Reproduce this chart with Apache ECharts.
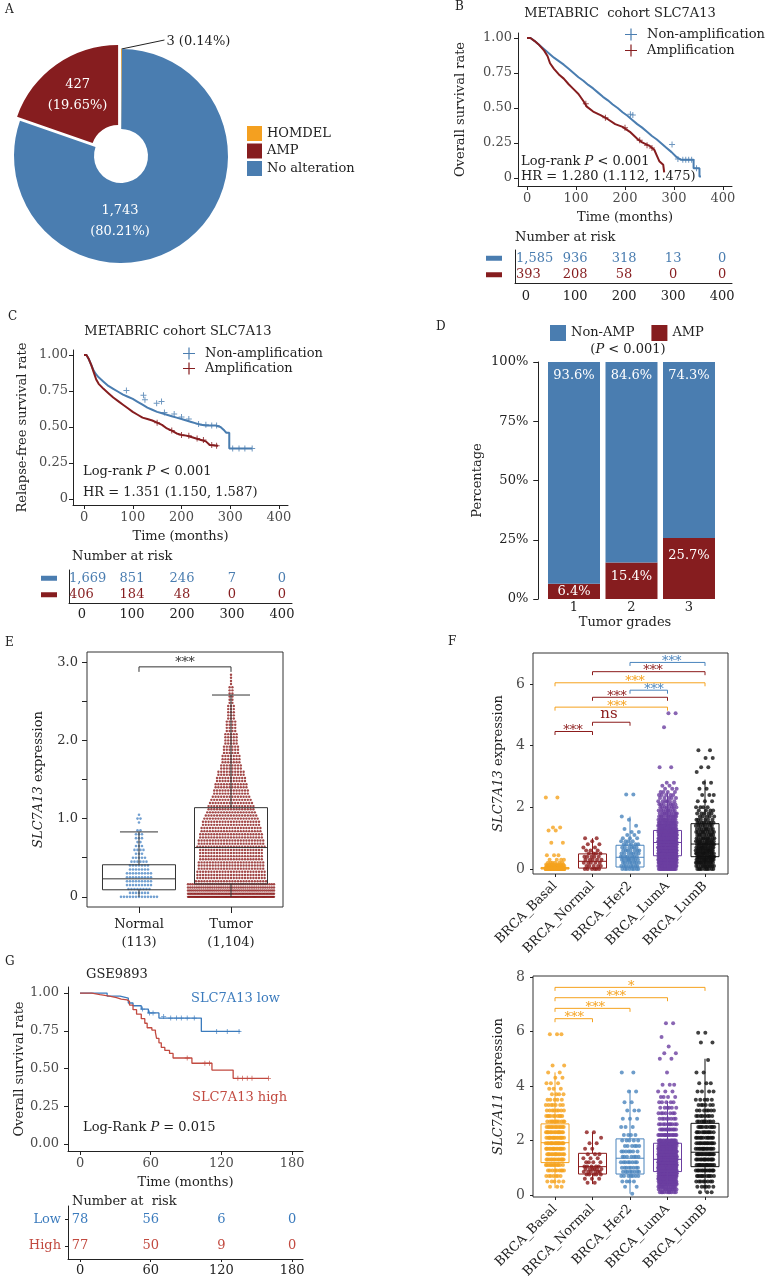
<!DOCTYPE html>
<html>
<head>
<meta charset="utf-8">
<title>SLC7A13 figure</title>
<script src="https://cdn.jsdelivr.net/npm/echarts@6.0.0/dist/echarts.min.js"></script>
<style>
  html, body { margin: 0; padding: 0; background: #ffffff; }
  #fig { width: 771px; height: 1276px; }
</style>
</head>
<body>
<div id="fig"></div>
<script>
// ===== A: SLC7A13 alterations =====
const pieNames = ['HOMDEL', 'No alteration', 'AMP'];
const pieCounts = [3, 1743, 427];
const piePercents = ['0.14%', '80.21%', '19.65%'];
const pieLegendOrder = ['HOMDEL', 'AMP', 'No alteration'];

// ===== B: METABRIC overall survival =====
const kmTimeTicks = [0, 100, 200, 300, 400];
const survTicks = [0, 0.25, 0.5, 0.75, 1];
const bNonAmpCurve = [[0,1],[7,1],[15,0.98],[25,0.95],[35,0.92],[45,0.89],[55,0.86],[65,0.835],[75,0.81],[85,0.78],[95,0.75],[105,0.72],[115,0.695],[125,0.665],[135,0.64],[145,0.61],[155,0.58],[165,0.555],[175,0.525],[185,0.5],[195,0.47],[205,0.445],[215,0.415],[225,0.385],[235,0.36],[245,0.33],[255,0.3],[265,0.275],[275,0.245],[285,0.215],[295,0.185],[305,0.15],[315,0.13],[340,0.13],[340,0.07],[352,0.07],[352,0.01],[355,0.01]];
const bAmpCurve = [[0,1],[7,1],[15,0.98],[25,0.95],[35,0.91],[42,0.87],[47,0.82],[55,0.78],[65,0.74],[75,0.71],[85,0.67],[95,0.635],[105,0.6],[115,0.55],[122,0.51],[135,0.475],[150,0.45],[165,0.42],[180,0.385],[195,0.365],[210,0.33],[225,0.28],[235,0.255],[250,0.23],[260,0.2],[265,0.16],[270,0.12],[278,0.095],[280,0.095],[280,0.04]];
const bNonAmpCensor = [[211,0.455],[216,0.45],[296,0.24],[308,0.135],[318,0.13],[324,0.13],[330,0.13],[336,0.13],[346,0.07]];
const bAmpCensor = [[120,0.53],[160,0.43],[200,0.36],[230,0.27],[245,0.235],[255,0.215]];
const bRiskNonAmp = [1585, 936, 318, 13, 0];
const bRiskAmp = [393, 208, 58, 0, 0];

// ===== C: METABRIC relapse-free survival =====
const cNonAmpCurve = [[0,1],[5,1],[10,0.97],[15,0.93],[20,0.89],[25,0.865],[30,0.845],[40,0.815],[50,0.785],[60,0.765],[70,0.745],[80,0.725],[90,0.71],[100,0.695],[110,0.675],[120,0.655],[130,0.635],[140,0.62],[150,0.605],[160,0.595],[170,0.585],[180,0.575],[190,0.565],[200,0.555],[210,0.545],[220,0.535],[230,0.525],[240,0.515],[250,0.51],[270,0.51],[280,0.5],[288,0.475],[292,0.46],[298,0.46],[298,0.35],[345,0.35]];
const cAmpCurve = [[0,1],[5,1],[10,0.97],[15,0.93],[20,0.88],[25,0.83],[30,0.8],[40,0.765],[50,0.735],[60,0.705],[70,0.68],[80,0.655],[90,0.63],[100,0.605],[110,0.585],[120,0.565],[130,0.555],[140,0.545],[150,0.53],[160,0.515],[170,0.49],[180,0.475],[190,0.455],[200,0.445],[210,0.44],[220,0.43],[230,0.42],[240,0.41],[250,0.4],[258,0.375],[275,0.37]];
const cNonAmpCensor = [[87,0.753],[122,0.72],[125,0.69],[149,0.665],[159,0.677],[165,0.6],[185,0.59],[200,0.57],[215,0.555],[235,0.52],[250,0.515],[262,0.51],[272,0.51],[305,0.35],[318,0.35],[330,0.35],[345,0.35]];
const cAmpCensor = [[150,0.53],[180,0.475],[200,0.445],[215,0.44],[232,0.42],[245,0.41],[262,0.375],[272,0.37]];
const cRiskNonAmp = [1669, 851, 246, 7, 0];
const cRiskAmp = [406, 184, 48, 0, 0];

// ===== D: AMP by tumor grade =====
const dGrades = ['1', '2', '3'];
const dNonAmp = [93.6, 84.6, 74.3];
const dAmp = [6.4, 15.4, 25.7];

// ===== E: normal vs tumor (value, number of dots in that row) =====
const eGroups = ['Normal\n(113)', 'Tumor\n(1,104)'];
const eBoxes = [[0, 0.09, 0.23, 0.41, 0.83], [0, 0.165, 0.63, 1.14, 2.58]];
const eNormalRows = [[0,13],[0.05,7],[0.1,8],[0.15,9],[0.2,9],[0.25,9],[0.3,9],[0.35,7],[0.4,7],[0.45,6],[0.5,5],[0.55,3],[0.6,4],[0.65,3],[0.7,2],[0.75,3],[0.8,3],[0.85,2],[0.95,1],[1.0,2],[1.05,1]];
const eTumorRows = [[0,96],[0.04,62],[0.08,46],[0.12,40],[0.16,40],[0.2,26],[0.24,25],[0.28,25],[0.32,25],[0.36,24],[0.4,24],[0.44,24],[0.48,23],[0.52,23],[0.56,23],[0.6,23],[0.64,25],[0.68,24],[0.72,24],[0.76,23],[0.8,23],[0.84,22],[0.88,22],[0.92,21],[0.96,21],[1.0,20],[1.04,19],[1.08,18],[1.12,17],[1.16,17],[1.2,16],[1.24,15],[1.28,14],[1.32,13],[1.36,13],[1.4,12],[1.44,12],[1.48,11],[1.52,11],[1.56,10],[1.6,10],[1.64,8],[1.68,8],[1.72,7],[1.76,7],[1.8,7],[1.84,6],[1.88,6],[1.92,6],[1.96,5],[2.0,5],[2.04,5],[2.08,5],[2.12,4],[2.16,4],[2.2,4],[2.24,4],[2.28,3],[2.32,3],[2.36,3],[2.4,3],[2.44,3],[2.48,2],[2.52,2],[2.56,2],[2.6,2],[2.64,2],[2.68,2],[2.72,1],[2.76,1],[2.8,1],[2.84,1]];
const eSigPairs = [[0, 1]];
const eSigHeights = [2.94];
const eSigTextX = [0.5];
const eSigLabels = ['***'];

// ===== F: PAM50 subtypes =====
const fGroups = ['BRCA_Basal', 'BRCA_Normal', 'BRCA_Her2', 'BRCA_LumA', 'BRCA_LumB'];
const f13Boxes = [[0,0,0.02,0.05,0.1],[0,0.03,0.25,0.49,1.0],[0,0.065,0.38,0.77,1.7],[0,0.43,0.86,1.25,2.48],[0,0.4,0.81,1.47,2.9]];
const f13Rows = [
  [[0,110],[0.05,25],[0.1,15],[0.15,8],[0.2,6],[0.3,4],[0.45,3],[0.85,2],[1.25,2],[1.35,2],[2.32,2]],
  [[0,6],[0.1,5],[0.2,5],[0.3,5],[0.4,5],[0.5,4],[0.6,3],[0.7,2],[0.8,2],[0.9,1],[1.0,2]],
  [[0,8],[0.1,8],[0.2,8],[0.3,9],[0.4,8],[0.5,7],[0.6,7],[0.7,6],[0.8,5],[0.9,4],[1.0,3],[1.1,2],[1.2,2],[1.3,1],[1.4,1],[1.6,1],[1.7,1],[2.42,2]],
  [[0,20],[0.1,25],[0.2,30],[0.3,35],[0.4,38],[0.5,40],[0.6,40],[0.7,40],[0.8,38],[0.9,36],[1.0,33],[1.1,30],[1.2,27],[1.3,24],[1.4,20],[1.5,17],[1.6,14],[1.7,12],[1.8,10],[1.9,9],[2.0,8],[2.1,7],[2.2,6],[2.3,5],[2.4,5],[2.5,4],[2.6,3],[2.7,2],[2.8,2],[3.3,2],[4.6,1],[5.05,2]],
  [[0,10],[0.1,12],[0.2,14],[0.3,15],[0.4,15],[0.5,15],[0.6,14],[0.7,14],[0.8,13],[0.9,12],[1.0,11],[1.1,10],[1.2,10],[1.3,9],[1.4,8],[1.5,8],[1.6,6],[1.7,5],[1.8,5],[1.9,4],[2.0,4],[2.2,3],[2.4,3],[2.6,2],[2.8,2],[3.15,1],[3.3,2],[3.6,2],[3.85,2]]
];
const f13SigPairs = [[0,1],[1,2],[0,3],[1,3],[2,3],[0,4],[1,4],[2,4]];
const f13SigHeights = [4.46, 4.76, 5.25, 5.57, 5.8, 6.04, 6.4, 6.7];
const f13SigTextX = [0.48, 1.44, 1.65, 1.65, 2.64, 2.13, 2.61, 3.11];
const f13SigLabels = ['***', 'ns', '***', '***', '***', '***', '***', '***'];
const f13SigColorGroup = [1, 1, 0, 1, 2, 0, 1, 2];

const f11Boxes = [[0.25,1.19,1.92,2.61,4.5],[0.4,0.77,1.04,1.53,2.3],[0.05,0.77,1.35,2.06,3.85],[0.08,0.86,1.31,1.9,3.45],[0.1,1.04,1.57,2.63,5.0]];
const f11Rows = [
  [[0.3,3],[0.5,5],[0.7,7],[0.9,9],[1.1,12],[1.3,14],[1.5,15],[1.7,16],[1.9,17],[2.1,16],[2.3,15],[2.5,13],[2.7,11],[2.9,10],[3.1,8],[3.3,7],[3.5,5],[3.7,4],[3.9,3],[4.1,3],[4.3,2],[4.5,2],[4.75,2],[5.9,3]],
  [[0.45,2],[0.6,3],[0.75,5],[0.85,6],[0.95,6],[1.05,5],[1.2,4],[1.35,3],[1.5,3],[1.7,2],[1.9,2],[2.1,1],[2.3,2]],
  [[0.05,1],[0.3,2],[0.5,4],[0.7,7],[0.85,8],[1.0,8],[1.2,8],[1.4,7],[1.6,7],[1.8,6],[2.0,5],[2.2,4],[2.5,3],[2.8,3],[3.1,3],[3.4,2],[3.8,2],[4.5,2]],
  [[0.1,10],[0.2,12],[0.3,15],[0.4,18],[0.5,22],[0.6,27],[0.7,32],[0.8,36],[0.9,38],[1.0,40],[1.1,40],[1.2,38],[1.3,36],[1.4,34],[1.5,31],[1.6,28],[1.7,25],[1.8,22],[1.9,19],[2.0,17],[2.2,15],[2.4,12],[2.6,10],[2.8,8],[3.0,7],[3.2,6],[3.4,5],[3.6,4],[3.8,3],[4.05,3],[4.5,1],[5.0,2],[5.2,2],[5.45,1],[5.8,1],[6.3,2]],
  [[0.1,3],[0.3,6],[0.5,8],[0.7,11],[0.9,14],[1.1,15],[1.3,15],[1.5,15],[1.7,14],[1.9,13],[2.1,12],[2.3,11],[2.5,10],[2.7,9],[2.9,8],[3.1,7],[3.3,6],[3.5,5],[3.8,4],[4.1,3],[4.5,2],[4.95,1],[5.6,2],[5.95,2]]
];
const f11SigPairs = [[0,1],[0,2],[0,3],[0,4]];
const f11SigHeights = [6.47, 6.85, 7.24, 7.62];
const f11SigTextX = [0.51, 1.07, 1.63, 2.03];
const f11SigLabels = ['***', '***', '***', '*'];
const f11SigColorGroup = [0, 0, 0, 0];

// ===== G: GSE9893 overall survival =====
const gTimeTicks = [0, 60, 120, 180];
const gLowCurve = [[0,1],[23,0.98],[34,0.967],[41,0.934],[45,0.916],[52,0.894],[58,0.868],[67,0.834],[103,0.746],[136,0.746]];
const gHighCurve = [[0,1],[10,0.99],[17,0.98],[25,0.97],[31,0.96],[35,0.955],[40,0.945],[42,0.92],[45,0.89],[48,0.86],[52,0.83],[55,0.8],[57,0.77],[61,0.755],[64,0.74],[65,0.7],[67,0.67],[69,0.64],[72,0.62],[76,0.6],[79,0.57],[95,0.535],[112,0.49],[130,0.435],[160,0.435]];
const gLowCensor = [[53,0.894],[59,0.868],[62,0.868],[71,0.845],[77,0.834],[82,0.834],[86,0.834],[91,0.834],[97,0.834],[116,0.746],[125,0.746],[135,0.746]];
const gHighCensor = [[91,0.57],[106,0.535],[110,0.535],[134,0.435],[138,0.435],[142,0.435],[146,0.435],[160,0.435]];
const gRiskLow = [78, 56, 6, 0];
const gRiskHigh = [77, 50, 9, 0];

// ===== styles =====
const FONT = '"DejaVu Serif", serif';
const INK = '#222222';
const TICK_GRAY = '#4d4d4d';
const BLUE = '#4a7db0';
const DRED = '#861d1f';
const ORANGE = '#f4a020';
const GBLUE = '#3b7bbd';
const GRED = '#c24a40';
const F_COLORS = ['#f5a21e', '#8b1a1a', '#4a84bd', '#6b3fa0', '#111111'];
const PLUS = 'path://M5,0H7V5H12V7H7V12H5V7H0V5H5Z';
const PLUS_THIN = 'path://M5.4,0H6.6V5.4H12V6.6H6.6V12H5.4V6.6H0V5.4H5.4Z';
const ITALIC_RICH = {i: {fontStyle: 'italic', fontFamily: FONT, fontSize: 13, color: INK}};

const withComma = n => String(n).replace(/\B(?=(\d{3})+(?!\d))/g, ',');
const survFmt = v => (v === 0 ? '0' : v.toFixed(2));

const option = {
  animation: false,
  textStyle: {fontFamily: FONT},
  grid: [], xAxis: [], yAxis: [], series: [], legend: [],
  graphic: {elements: []}
};

function addGrid(left, top, width, height, framed) {
  option.grid.push({left, top, width, height, containLabel: false, outerBoundsMode: 'none',
    show: !!framed, borderColor: '#333', borderWidth: 1, backgroundColor: 'transparent'});
  return option.grid.length - 1;
}

function valueAxis(gi, min, max, ticks, o) {
  o = o || {};
  return {
    type: 'value', gridIndex: gi, min, max, position: o.position,
    splitLine: {show: false},
    axisLine: {show: o.line !== false, onZero: false, lineStyle: {color: '#222', width: 1}},
    axisTick: {show: o.tick !== false, length: o.tickLen || 4, customValues: o.tickValues || ticks,
      alignWithLabel: true, lineStyle: {color: '#222'}},
    axisLabel: {customValues: ticks, margin: o.margin == null ? 6 : o.margin, color: o.color || TICK_GRAY,
      fontFamily: FONT, fontSize: o.size || 13, formatter: o.fmt, rotate: o.rotate || 0, lineHeight: o.lineHeight},
    name: o.name || '', nameLocation: 'middle', nameGap: o.nameGap || 20,
    nameTextStyle: {fontFamily: FONT, fontSize: 13, color: INK, padding: o.namePad || 0, rich: ITALIC_RICH}
  };
}

function riskYAxis(gi, names, labelRich, fmt, margin, ticks) {
  return {
    type: 'category', gridIndex: gi, data: names,
    axisLine: {show: true, onZero: false, lineStyle: {color: '#222'}},
    axisTick: {show: !!ticks, length: 3, alignWithLabel: true, lineStyle: {color: '#222'}},
    axisLabel: {interval: 0, margin, formatter: fmt, rich: labelRich, fontFamily: FONT, fontSize: 13},
    splitLine: {show: false}
  };
}

function kmLine(name, data, color, ai, step, width) {
  return {type: 'line', name, data, xAxisIndex: ai, yAxisIndex: ai, step: step ? 'end' : false,
    showSymbol: false, symbol: 'none', color, lineStyle: {color, width}, silent: true, z: 2};
}

function kmCensor(data, color, ai, size) {
  return {type: 'scatter', data, xAxisIndex: ai, yAxisIndex: ai, symbol: PLUS, symbolSize: size,
    itemStyle: {color}, silent: true, z: 3};
}

function riskSeries(times, values, row, color, ai, firstShift) {
  return {
    type: 'custom', xAxisIndex: ai, yAxisIndex: ai, silent: true,
    data: times.map((t, i) => [t, row, values[i]]),
    renderItem: (params, api) => {
      const p = api.coord([api.value(0), api.value(1)]);
      const first = params.dataIndex === 0 && firstShift != null;
      const al = first ? 'left' : 'center';
      return {type: 'text', x: first ? p[0] - firstShift : p[0], y: p[1],
        style: {text: withComma(api.value(2)), fill: color, font: '13px ' + FONT,
          align: al, textAlign: al, verticalAlign: 'middle', textVerticalAlign: 'middle'}};
    }
  };
}

function boxSeries(boxes, ai, colors, boxW, capW, lineW) {
  return {
    type: 'custom', xAxisIndex: ai, yAxisIndex: ai, silent: true, z: 4,
    data: boxes.map((b, i) => [i].concat(b)),
    renderItem: (params, api) => {
      const x = api.value(0);
      const lo = api.coord([x, api.value(1)]);
      const q1 = api.coord([x, api.value(2)]);
      const md = api.coord([x, api.value(3)]);
      const q3 = api.coord([x, api.value(4)]);
      const hi = api.coord([x, api.value(5)]);
      const cx = q1[0], h = boxW / 2, c = capW / 2;
      const st = {stroke: colors[params.dataIndex], lineWidth: lineW, fill: 'none'};
      const kids = [
        {type: 'line', shape: {x1: cx, y1: q3[1], x2: cx, y2: hi[1]}, style: st},
        {type: 'line', shape: {x1: cx, y1: q1[1], x2: cx, y2: lo[1]}, style: st},
        {type: 'rect', shape: {x: cx - h, y: q3[1], width: boxW, height: Math.max(q1[1] - q3[1], 0.5)}, style: st},
        {type: 'line', shape: {x1: cx - h, y1: md[1], x2: cx + h, y2: md[1]}, style: st}
      ];
      if (capW > 0) {
        kids.push({type: 'line', shape: {x1: cx - c, y1: hi[1], x2: cx + c, y2: hi[1]}, style: st});
      }
      return {type: 'group', children: kids};
    }
  };
}

function bracketSeries(pairs, heights, textX, labels, colors, ai, drop, textDy) {
  return {
    type: 'custom', xAxisIndex: ai, yAxisIndex: ai, silent: true, z: 5,
    data: pairs.map((p, i) => [p[0], p[1], heights[i], textX[i]]),
    renderItem: (params, api) => {
      const i = params.dataIndex;
      const a = api.coord([api.value(0), api.value(2)]);
      const b = api.coord([api.value(1), api.value(2)]);
      const t = api.coord([api.value(3), api.value(2)]);
      const col = colors[i];
      const isNs = labels[i] === 'ns';
      return {type: 'group', children: [
        {type: 'polyline', shape: {points: [[a[0], a[1] + drop], [a[0], a[1]], [b[0], b[1]], [b[0], b[1] + drop]]},
          style: {stroke: col, fill: 'none', lineWidth: 1}},
        {type: 'text', x: t[0], y: t[1] - (isNs ? 8 : textDy),
          style: {text: labels[i], fill: col, font: (isNs ? '15px ' : '13px ') + FONT,
            align: 'center', textAlign: 'center', verticalAlign: 'middle', textVerticalAlign: 'middle'}}
      ]};
    }
  };
}

// beeswarm rows: dots of one value laid side by side, squeezed when the row is too wide
function swarm(rows, center, spacingPx, maxHalfPx, pxPerUnit) {
  const pts = [];
  rows.forEach(([v, n]) => {
    let sp = spacingPx;
    if (n > 1 && (n - 1) * sp > 2 * maxHalfPx) sp = 2 * maxHalfPx / (n - 1);
    for (let j = 0; j < n; j++) pts.push([center + (j - (n - 1) / 2) * sp / pxPerUnit, v]);
  });
  return pts;
}

// horizontal spread for the jittered dots (even golden-ratio spacing)
function spread(rows, center, halfUnits) {
  const pts = [];
  let k = 0;
  rows.forEach(([v, n]) => {
    for (let j = 0; j < n; j++) {
      k++;
      const f = (k * 0.6180339887) % 1;
      pts.push([center + (f - 0.5) * 2 * halfUnits, v]);
    }
  });
  return pts;
}

function txt(x, y, text, o) {
  o = o || {};
  const size = o.size || 13, color = o.color || INK, al = o.align || 'left';
  return {type: 'text', x, y, silent: true, style: {
    text, fill: color, font: size + 'px ' + FONT, align: al, textAlign: al,
    verticalAlign: 'middle', textVerticalAlign: 'middle',
    rich: {
      n: {fill: color, color, fontFamily: FONT, fontSize: size},
      i: {fill: color, color, fontFamily: FONT, fontSize: size, fontStyle: 'italic'}
    }
  }};
}

// ---------- A ----------
const pieColors = [ORANGE, BLUE, DRED];
const pieLabelOffsets = {1: [-1, 65], 2: [-47, -61]};
option.series.push({
  type: 'pie', center: [121, 156], radius: [27, 107], startAngle: 90, clockwise: true,
  selectedMode: 'single', selectedOffset: 5, avoidLabelOverlap: false, silent: true,
  label: {fontFamily: FONT, fontSize: 13, lineHeight: 21},
  data: pieNames.map((name, i) => ({
    name, value: pieCounts[i], selected: name === 'AMP',
    itemStyle: {color: pieColors[i]},
    label: i === 0
      ? {show: true, position: 'outside', color: INK, formatter: withComma(pieCounts[i]) + ' (' + piePercents[i] + ')'}
      : {show: true, position: 'inside', color: '#fff', formatter: withComma(pieCounts[i]) + '\n(' + piePercents[i] + ')'},
    labelLine: {show: i === 0, lineStyle: {color: INK, width: 1}}
  })),
  labelLayout: function (p) {
    if (p.dataIndex === 0) {
      const s = p.labelLinePoints ? p.labelLinePoints[0] : [121.5, 49];
      return {x: s[0] + 45, y: s[1] - 7, align: 'left', verticalAlign: 'middle',
        labelLinePoints: [s, [s[0] + 43, s[1] - 9], [s[0] + 43, s[1] - 9]]};
    }
    const off = pieLabelOffsets[p.dataIndex];
    return {x: 121 + off[0], y: 156 + off[1], align: 'center', verticalAlign: 'middle'};
  }
});
option.legend.push({data: pieLegendOrder, left: 247, top: 126, orient: 'vertical', icon: 'rect',
  itemWidth: 15, itemHeight: 15, itemGap: 2.5, padding: 0, selectedMode: false,
  textStyle: {fontFamily: FONT, fontSize: 13, color: INK}});

// ---------- B ----------
const gB = addGrid(518, 33, 214, 153);
option.xAxis.push(valueAxis(gB, -18.4, 418.4, kmTimeTicks, {name: 'Time (months)', nameGap: 25, margin: 6}));
option.yAxis.push(valueAxis(gB, -0.057, 1.036, survTicks, {name: 'Overall survival rate', nameGap: 51, margin: 6, fmt: survFmt}));
option.series.push(kmLine('Non-amplification|B', bNonAmpCurve, BLUE, gB, false, 2));
option.series.push(kmLine('Amplification|B', bAmpCurve, DRED, gB, false, 2));
option.series.push(kmCensor(bNonAmpCensor, BLUE, gB, 6));
option.series.push(kmCensor(bAmpCensor, DRED, gB, 6));

const gBr = addGrid(515, 250, 217, 33);
const dashRich = {r: {backgroundColor: DRED, width: 16, height: 5}, b: {backgroundColor: BLUE, width: 16, height: 5}};
option.xAxis.push(valueAxis(gBr, -22.4, 420, kmTimeTicks, {tick: false, margin: 7, color: INK}));
option.yAxis.push(riskYAxis(gBr, ['Amplification', 'Non-amplification'], dashRich, (v, i) => (i === 0 ? '{r| }' : '{b| }'), 13, false));
option.series.push(riskSeries(kmTimeTicks, bRiskNonAmp, 1, BLUE, gBr, 10));
option.series.push(riskSeries(kmTimeTicks, bRiskAmp, 0, DRED, gBr, 10));

option.legend.push({data: ['Non-amplification|B', 'Amplification|B'], left: 625, top: 27, orient: 'vertical',
  icon: PLUS_THIN, itemWidth: 12, itemHeight: 12, itemGap: 1, padding: 0, selectedMode: false,
  formatter: n => n.split('|')[0],
  textStyle: {fontFamily: FONT, fontSize: 13, color: INK, lineHeight: 15, padding: [0, 0, 0, 5]}});

// ---------- C ----------
const gC = addGrid(73, 350, 215, 155);
option.xAxis.push(valueAxis(gC, -22.6, 418.5, kmTimeTicks, {name: 'Time (months)', nameGap: 25, margin: 6}));
option.yAxis.push(valueAxis(gC, -0.042, 1.035, survTicks, {name: 'Relapse-free survival rate', nameGap: 44, margin: 5, fmt: survFmt}));
option.series.push(kmLine('Non-amplification|C', cNonAmpCurve, BLUE, gC, false, 2));
option.series.push(kmLine('Amplification|C', cAmpCurve, DRED, gC, false, 2));
option.series.push(kmCensor(cNonAmpCensor, BLUE, gC, 6));
option.series.push(kmCensor(cAmpCensor, DRED, gC, 6));

const gCr = addGrid(69, 570, 223, 33);
option.xAxis.push(valueAxis(gCr, -26, 420, kmTimeTicks, {tick: false, margin: 5, color: INK}));
option.yAxis.push(riskYAxis(gCr, ['Amplification', 'Non-amplification'], dashRich, (v, i) => (i === 0 ? '{r| }' : '{b| }'), 12, false));
option.series.push(riskSeries(kmTimeTicks, cRiskNonAmp, 1, BLUE, gCr, 13));
option.series.push(riskSeries(kmTimeTicks, cRiskAmp, 0, DRED, gCr, 13));

option.legend.push({data: ['Non-amplification|C', 'Amplification|C'], left: 183, top: 346, orient: 'vertical',
  icon: PLUS_THIN, itemWidth: 12, itemHeight: 12, itemGap: 0, padding: 0, selectedMode: false,
  formatter: n => n.split('|')[0],
  textStyle: {fontFamily: FONT, fontSize: 13, color: INK, lineHeight: 15, padding: [0, 0, 0, 5]}});

// ---------- D ----------
const gD = addGrid(545.25, 362, 172.5, 237);
option.xAxis.push({type: 'category', gridIndex: gD, data: dGrades,
  axisLine: {show: false}, axisTick: {show: false},
  axisLabel: {margin: 2, color: INK, fontFamily: FONT, fontSize: 13},
  name: 'Tumor grades', nameLocation: 'middle', nameGap: 17,
  nameTextStyle: {fontFamily: FONT, fontSize: 13, color: INK, padding: [0, 13, 0, 0]}});
option.yAxis.push({type: 'value', gridIndex: gD, min: 0, max: 100, interval: 25, offset: 7,
  splitLine: {show: false},
  axisLine: {show: true, lineStyle: {color: '#222'}},
  axisTick: {show: true, length: 5, lineStyle: {color: '#222'}},
  axisLabel: {formatter: '{value}%', margin: 10, color: INK, fontFamily: FONT, fontSize: 13},
  name: 'Percentage', nameLocation: 'middle', nameGap: 54,
  nameTextStyle: {fontFamily: FONT, fontSize: 13, color: INK}});
option.series.push({type: 'bar', name: 'AMP|D', stack: 'grade', xAxisIndex: gD, yAxisIndex: gD, barWidth: 52,
  itemStyle: {color: DRED}, silent: true,
  label: {show: true, position: 'insideTop', distance: 8, color: '#fff', fontFamily: FONT, fontSize: 13, formatter: '{c}%'},
  data: dAmp.map((v, i) => {
    if (i === 0) return {value: v, label: {position: 'inside'}};
    if (i === 2) return {value: v, label: {distance: 11}};
    return v;
  })});
option.series.push({type: 'bar', name: 'Non-AMP|D', stack: 'grade', xAxisIndex: gD, yAxisIndex: gD, barWidth: 52,
  itemStyle: {color: BLUE}, silent: true,
  label: {show: true, position: 'insideTop', distance: 7, color: '#fff', fontFamily: FONT, fontSize: 13, formatter: '{c}%'},
  data: dNonAmp});
option.legend.push({data: ['Non-AMP|D', 'AMP|D'], left: 550, top: 325, orient: 'horizontal', icon: 'rect',
  itemWidth: 16, itemHeight: 16, itemGap: 17, padding: 0, selectedMode: false,
  formatter: n => n.split('|')[0],
  textStyle: {fontFamily: FONT, fontSize: 13, color: INK}});

// ---------- E ----------
const gE = addGrid(87, 652, 196, 255, true);
option.xAxis.push(valueAxis(gE, -0.565, 1.565, [0, 1], {line: false, tickLen: 6, margin: 9, color: INK,
  lineHeight: 18, fmt: v => eGroups[Math.round(v)]}));
option.yAxis.push(valueAxis(gE, -0.13, 3.13, [0, 1, 2, 3], {line: false, tickValues: [0, 0.5, 1, 1.5, 2, 2.5, 3],
  tickLen: 5, margin: 9, color: '#333', fmt: v => (v === 0 ? '0' : v.toFixed(1)),
  name: '{i|SLC7A13} expression', nameGap: 42}));
option.series.push({type: 'scatter', xAxisIndex: gE, yAxisIndex: gE, silent: true, symbolSize: 2.6,
  itemStyle: {color: '#4f88c6'}, data: swarm(eNormalRows, 0, 3, 19, 92)});
option.series.push({type: 'scatter', xAxisIndex: gE, yAxisIndex: gE, silent: true, symbolSize: 2.4,
  itemStyle: {color: '#8b1a1a'}, data: swarm(eTumorRows, 1, 2.8, 43, 92)});
option.series.push(boxSeries(eBoxes, gE, ['#333', '#333'], 73, 38, 1));
option.series.push(bracketSeries(eSigPairs, eSigHeights, eSigTextX, eSigLabels, ['#333'], gE, 5, 4));

// ---------- F ----------
function fPanel(top, boxes, rows, yMin, yMax, yTicks, yName, sig) {
  const gi = addGrid(533, top, 195, 221, true);
  option.xAxis.push(valueAxis(gi, -0.587, 4.613, [0, 1, 2, 3, 4], {line: false, tickLen: 3, margin: 10,
    color: INK, rotate: 45, fmt: v => fGroups[Math.round(v)]}));
  option.yAxis.push(valueAxis(gi, yMin, yMax, yTicks, {line: false, tickLen: 3, margin: 8, size: 14,
    name: yName, nameGap: 28}));
  rows.forEach((r, g) => {
    option.series.push({type: 'scatter', xAxisIndex: gi, yAxisIndex: gi, silent: true, symbolSize: 4,
      itemStyle: {color: F_COLORS[g]}, data: spread(r, g, 0.25)});
  });
  option.series.push(boxSeries(boxes, gi, F_COLORS, 28, 0, 1));
  option.series.push(bracketSeries(sig.pairs, sig.heights, sig.textX, sig.labels,
    sig.colorGroup.map(c => F_COLORS[c]), gi, 3.5, 1));
}
fPanel(653, f13Boxes, f13Rows, -0.162, 7.006, [0, 2, 4, 6], '{i|SLC7A13} expression',
  {pairs: f13SigPairs, heights: f13SigHeights, textX: f13SigTextX, labels: f13SigLabels, colorGroup: f13SigColorGroup});
fPanel(976, f11Boxes, f11Rows, -0.073, 8.037, [0, 2, 4, 6, 8], '{i|SLC7A11} expression',
  {pairs: f11SigPairs, heights: f11SigHeights, textX: f11SigTextX, labels: f11SigLabels, colorGroup: f11SigColorGroup});

// ---------- G ----------
const gG = addGrid(68, 987, 235, 164);
option.xAxis.push(valueAxis(gG, -10.2, 189.3, gTimeTicks, {name: 'Time (months)', nameGap: 25, margin: 6}));
option.yAxis.push(valueAxis(gG, -0.046, 1.04, survTicks, {name: 'Overall survival rate', nameGap: 42, margin: 9,
  fmt: v => v.toFixed(2)}));
option.series.push(kmLine('low|G', gLowCurve, GBLUE, gG, true, 1.3));
option.series.push(kmLine('high|G', gHighCurve, GRED, gG, true, 1.3));
option.series.push(kmCensor(gLowCensor, GBLUE, gG, 5));
option.series.push(kmCensor(gHighCensor, GRED, gG, 5));

const gGr = addGrid(68, 1206, 235, 53);
const gRiskRich = {h: {color: GRED, fontFamily: FONT, fontSize: 13}, l: {color: GBLUE, fontFamily: FONT, fontSize: 13}};
option.xAxis.push(valueAxis(gGr, -10.2, 189.3, gTimeTicks, {tickLen: 3, margin: 5, color: INK}));
option.yAxis.push(riskYAxis(gGr, ['High', 'Low'], gRiskRich, (v, i) => (i === 0 ? '{h|High}' : '{l|Low}'), 7, true));
option.series.push(riskSeries(gTimeTicks, gRiskLow, 1, GBLUE, gGr, null));
option.series.push(riskSeries(gTimeTicks, gRiskHigh, 0, GRED, gGr, null));

// ---------- free texts ----------
option.graphic.elements.push(
  txt(5, 10, 'A', {size: 12}), txt(455, 7, 'B', {size: 12}), txt(8, 317, 'C', {size: 12}),
  txt(436, 327, 'D', {size: 12}), txt(5, 643, 'E', {size: 12}), txt(448, 642, 'F', {size: 12}),
  txt(5, 962, 'G', {size: 12}),
  txt(620, 14, 'METABRIC  cohort SLC7A13', {align: 'center'}),
  txt(521, 162, '{n|Log-rank }{i|P}{n| < 0.001}'),
  txt(521, 177, 'HR = 1.280 (1.112, 1.475)'),
  txt(515, 238, 'Number at risk'),
  txt(178, 332, 'METABRIC cohort SLC7A13', {align: 'center'}),
  txt(83, 472, '{n|Log-rank }{i|P}{n| < 0.001}'),
  txt(83, 493, 'HR = 1.351 (1.150, 1.587)'),
  txt(72, 557, 'Number at risk'),
  txt(628, 350, '{n|(}{i|P}{n| < 0.001)}', {align: 'center'}),
  txt(86, 975, 'GSE9893'),
  txt(191, 999, 'SLC7A13 low', {color: GBLUE}),
  txt(192, 1098, 'SLC7A13 high', {color: GRED}),
  txt(83, 1128, '{n|Log-Rank }{i|P}{n| = 0.015}'),
  txt(72, 1202, 'Number at  risk')
);

const chart = echarts.init(document.getElementById('fig'), null, {renderer: 'canvas'});
chart.setOption(option);
</script>
</body>
</html>
